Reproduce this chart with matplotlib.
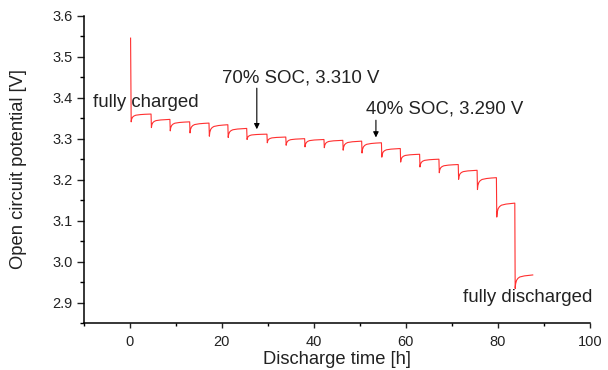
import numpy as np
import matplotlib.pyplot as plt
from matplotlib.ticker import MultipleLocator, FormatStrFormatter

plt.rcParams['font.family'] = ['Liberation Sans', 'DejaVu Sans']

# start of each current pulse [h] and end of the last rest period
seg_start = [0.2, 4.6, 8.7, 13.0, 17.2, 21.3, 25.4, 29.8, 33.9, 38.0, 42.2,
             46.3, 50.4, 54.7, 58.8, 63.0, 67.2, 71.4, 75.5, 79.7, 83.7]
t_final = 87.6
# voltage right after each pulse and at the end of the following rest [V]
v_low = [3.341, 3.327, 3.319, 3.314, 3.306, 3.303, 3.298, 3.290, 3.284, 3.280, 3.278,
         3.272, 3.265, 3.255, 3.243, 3.231, 3.217, 3.201, 3.176, 3.109, 2.935]
v_high = [3.360, 3.347, 3.341, 3.338, 3.334, 3.325, 3.311, 3.304, 3.300, 3.298, 3.296,
          3.294, 3.290, 3.276, 3.262, 3.250, 3.237, 3.223, 3.205, 3.143, 2.968]
v_initial = 3.545

# shape of the relaxation after a pulse: hours after pulse, fraction recovered
relax_dt = [0.0, 0.1, 0.3, 0.6, 1.0, 2.0, 3.0]
relax_frac = [0.0, 0.35, 0.6, 0.75, 0.85, 0.93, 0.97]

seg_end = seg_start[1:] + [t_final]
t = [0.15]
v = [v_initial]
for s, e, lo, hi in zip(seg_start, seg_end, v_low, v_high):
    for dt, f in zip(relax_dt, relax_frac):
        if s + 0.08 + dt < e - 0.05:
            t.append(s + 0.08 + dt)
            v.append(lo + (hi - lo) * f)
    t.append(e)
    v.append(hi)
t = np.array(t)
v = np.array(v)

fig = plt.figure(figsize=(6.08, 3.70), dpi=100)
ax = fig.add_axes([0.138, 0.126, 0.832, 0.832])
ax.plot(t, v, color='#ff3030', lw=0.8)

ax.set_xlim(-10, 100)
ax.set_ylim(2.85, 3.6)
ax.spines['top'].set_visible(False)
ax.spines['right'].set_visible(False)
for sp in ['left', 'bottom']:
    ax.spines[sp].set_linewidth(1.1)
ax.xaxis.set_major_locator(MultipleLocator(20))
ax.xaxis.set_minor_locator(MultipleLocator(10))
ax.yaxis.set_major_locator(MultipleLocator(0.1))
ax.yaxis.set_minor_locator(MultipleLocator(0.05))
ax.yaxis.set_major_formatter(FormatStrFormatter('%.1f'))
ax.tick_params(which='major', direction='out', width=1, labelsize=10.5, colors='#222222')
ax.tick_params(axis='x', which='major', length=3.6, pad=5)
ax.tick_params(axis='y', which='major', length=5, pad=3)
ax.tick_params(axis='x', which='minor', direction='out', length=2.2, width=1)
ax.tick_params(axis='y', which='minor', direction='out', length=2.8, width=1)

ax.set_xlabel('Discharge time [h]', fontsize=13.2, labelpad=1, color='#222222')
ax.set_ylabel('Open circuit potential [V]', fontsize=13.2, labelpad=18, color='#222222')

ax.text(-8.0, 3.387, 'fully charged', fontsize=13.4, ha='left', va='center', color='#222222')
ax.text(86.4, 2.912, 'fully discharged', fontsize=13.4, ha='center', va='center', color='#222222')
arrow = dict(arrowstyle='-|>', lw=0.8, color='k', mutation_scale=8, shrinkA=0, shrinkB=0)
ax.annotate('', xy=(27.6, 3.323), xytext=(27.6, 3.423), arrowprops=arrow)
ax.text(37.2, 3.448, '70% SOC, 3.310 V', fontsize=13.4, ha='center', va='center', color='#222222')
ax.annotate('', xy=(53.5, 3.303), xytext=(53.5, 3.345), arrowprops=arrow)
ax.text(68.4, 3.372, '40% SOC, 3.290 V', fontsize=13.4, ha='center', va='center', color='#222222')

fig.savefig('out.png', dpi=100)
